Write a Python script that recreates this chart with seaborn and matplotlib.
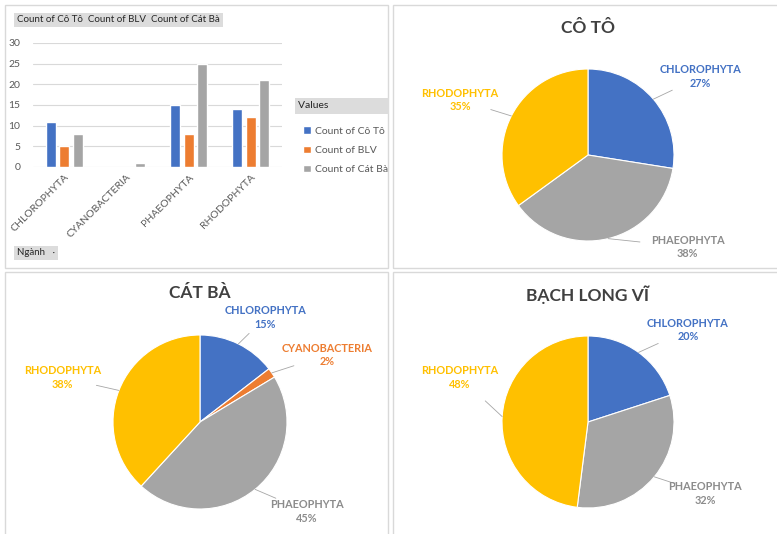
import numpy as np
import pandas as pd
import seaborn as sns
import matplotlib.pyplot as plt
from matplotlib.patches import Rectangle

# data
phyla = ['CHLOROPHYTA', 'CYANOBACTERIA', 'PHAEOPHYTA', 'RHODOPHYTA']
co_to = [11, 0, 15, 14]
blv = [5, 0, 8, 12]
cat_ba = [8, 1, 25, 21]
series_names = ['Count of Cô Tô', 'Count of BLV', 'Count of Cát Bà']
phylum_colors = ['#4472C4', '#ED7D31', '#A5A5A5', '#FFC000']

# percentage labels as shown on the pies
co_to_pct = ['27%', '', '38%', '35%']
blv_pct = ['20%', '', '32%', '48%']
cat_ba_pct = ['15%', '2%', '45%', '38%']

W, H = 777, 534
sns.set_theme(style='white')
plt.rcParams['font.family'] = ['Lato', 'Noto Sans', 'DejaVu Sans']

fig = plt.figure(figsize=(W / 100, H / 100), dpi=100)
fig.patch.set_facecolor('white')


def rect(x0, y0, x1, y1):
    # pixel box (top-left origin) -> figure fraction [l, b, w, h]
    return [x0 / W, 1 - y1 / H, (x1 - x0) / W, (y1 - y0) / H]


# panel frames
for x0, y0, x1, y1 in [(5, 5, 388, 268), (393, 5, 780, 268),
                       (5, 272, 388, 540), (393, 272, 780, 540)]:
    l, b, w, h = rect(x0, y0, x1, y1)
    fig.patches.append(Rectangle((l, b), w, h, transform=fig.transFigure,
                                 fill=False, edgecolor='#D9D9D9', lw=1))

# ---- bar chart ----
df = pd.DataFrame({
    'Ngành': phyla * 3,
    'Series': [s for s in series_names for _ in phyla],
    'Count': co_to + blv + cat_ba,
})
axb = fig.add_axes(rect(33, 43, 282, 167))
sns.barplot(data=df, x='Ngành', y='Count', hue='Series',
            palette=phylum_colors[:3], saturation=1, width=0.65, gap=0.25,
            ax=axb)
axb.set_ylim(0, 30)
axb.set_xlim(-0.5, 3.5)
axb.set_yticks(range(0, 31, 5))
axb.yaxis.grid(True, color='#D9D9D9', lw=0.8)
axb.set_axisbelow(True)
sns.despine(ax=axb, left=True, bottom=True, top=True, right=True)
axb.set_xlabel('')
axb.set_ylabel('')
axb.tick_params(axis='y', length=0, pad=9, labelsize=7.5, labelcolor='#595959')
axb.tick_params(axis='x', length=0, pad=4, labelsize=7.5, labelcolor='#595959')
plt.setp(axb.get_xticklabels(), rotation=45, ha='right', rotation_mode='anchor')

handles, labels = axb.get_legend_handles_labels()
axb.legend(handles, labels, loc='upper left',
           bbox_to_anchor=(294 / W, 1 - 117 / H), bbox_transform=fig.transFigure,
           frameon=False, fontsize=7.5, handlelength=0.7, handleheight=0.7,
           handletextpad=0.4, labelspacing=0.95, labelcolor='#595959')

# field buttons
btn = dict(boxstyle='square,pad=0.3', facecolor='#DCDCDC', edgecolor='none')
fig.text(17 / W, 1 - 20 / H, 'Count of Cô Tô  Count of BLV  Count of Cát Bà',
         fontsize=7, color='#262626', va='center', ha='left', bbox=btn)
fig.text(17 / W, 1 - 253 / H, 'Ngành   ·', fontsize=7, color='#262626',
         va='center', ha='left', bbox=btn)
fig.text(298 / W, 1 - 106 / H, 'Values' + ' ' * 22, fontsize=7.5,
         color='#262626', va='center', ha='left', bbox=btn)


# ---- pies ----
def draw_pie(panel, center, r, values, pcts, title, label_pos):
    cx, cy = center
    x0, y0, x1, y1 = panel
    ax = fig.add_axes(rect(x0, y0, x1, y1))
    keep = [i for i, v in enumerate(values) if v > 0]
    vals = [values[i] for i in keep]
    wedges, _ = ax.pie(vals, colors=[phylum_colors[i] for i in keep],
                       startangle=90, counterclock=False, radius=1,
                       wedgeprops=dict(edgecolor='white', linewidth=0.8))
    # pie() resets the limits, so set the pixel scale afterwards
    ax.set_aspect('auto')
    ax.set_xlim((x0 - cx) / r, (x1 - cx) / r)
    ax.set_ylim((cy - y1) / r, (cy - y0) / r)
    ax.axis('off')
    for w, i in zip(wedges, keep):
        ang = np.deg2rad((w.theta1 + w.theta2) / 2)
        ex, ey = np.cos(ang), np.sin(ang)
        lx, ly = label_pos[phyla[i]]
        col = '#8C8C8C' if phyla[i] == 'PHAEOPHYTA' else phylum_colors[i]
        ax.text(lx, ly, f'{phyla[i]}\n{pcts[i]}', ha='center', va='center',
                fontsize=7.8, fontweight='bold', color=col, linespacing=1.3)
        mx = ex + (lx - ex) * 0.4
        my = ey + (ly - ey) * 0.4
        ax.plot([ex, mx], [ey, my], color='#A6A6A6', lw=0.6)
    ax.text(0, 1.48, title, ha='center', va='center', fontsize=12.5,
            fontweight='bold', color='#404040')


draw_pie((393, 5, 777, 268), (588, 155), 86, co_to, co_to_pct, 'CÔ TÔ',
         {'CHLOROPHYTA': (1.31, 0.91), 'PHAEOPHYTA': (1.16, -1.07),
          'RHODOPHYTA': (-1.49, 0.64)})
draw_pie((5, 272, 388, 534), (200, 422), 87, cat_ba, cat_ba_pct, 'CÁT BÀ',
         {'CHLOROPHYTA': (0.75, 1.2), 'CYANOBACTERIA': (1.46, 0.77),
          'PHAEOPHYTA': (1.23, -1.03), 'RHODOPHYTA': (-1.58, 0.51)})
draw_pie((393, 272, 777, 534), (588, 422), 86, blv, blv_pct, 'BẠCH LONG VĨ',
         {'CHLOROPHYTA': (1.16, 1.07), 'PHAEOPHYTA': (1.36, -0.83),
          'RHODOPHYTA': (-1.49, 0.52)})

fig.savefig('out.png', dpi=100)
